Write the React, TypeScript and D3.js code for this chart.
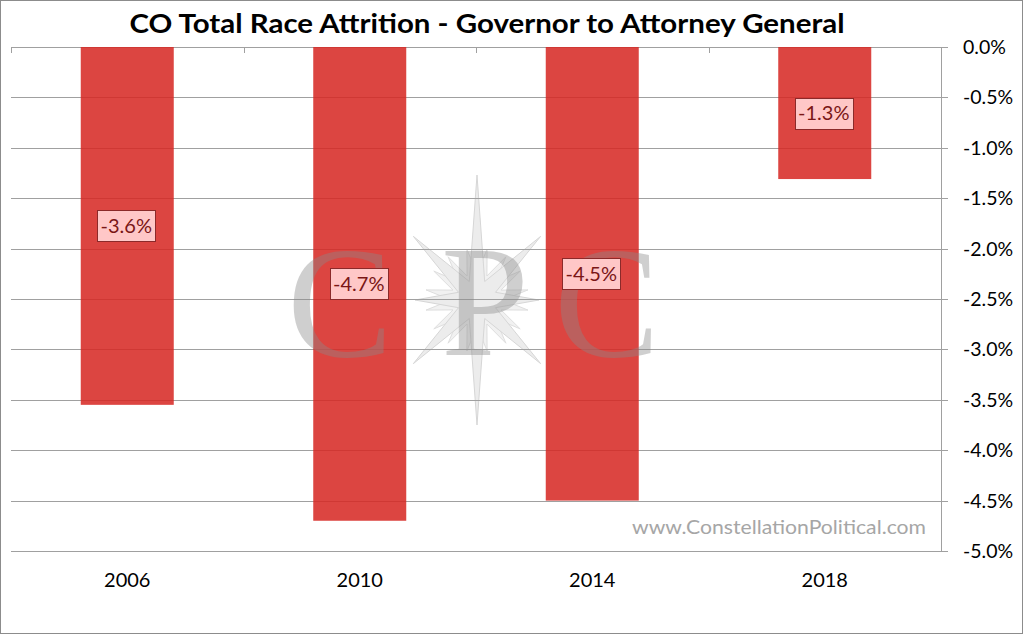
import React from "react";
import * as d3 from "d3";

const title = "CO Total Race Attrition - Governor to Attorney General";
const categories = ["2006", "2010", "2014", "2018"];
const values = [-3.55, -4.7, -4.5, -1.31];
const labels = ["-3.6%", "-4.7%", "-4.5%", "-1.3%"];
const yTicks = [0, -0.5, -1, -1.5, -2, -2.5, -3, -3.5, -4, -4.5, -5];
const watermarkUrl = "www.ConstellationPolitical.com";

const W = 1024;
const H = 634;
const left = 11;
const right = 941;
const top = 47;
const bottom = 551;

function starPath(cx: number, cy: number, radii: number[], inner: number, rot = 0) {
  const pts: [number, number][] = [];
  const n = radii.length;
  for (let i = 0; i < n; i++) {
    const a = (i / n) * Math.PI * 2 - Math.PI / 2 + rot;
    const r = radii[i];
    pts.push([cx + r * Math.cos(a), cy + r * Math.sin(a)]);
    const a2 = a + Math.PI / n;
    pts.push([cx + inner * Math.cos(a2), cy + inner * Math.sin(a2)]);
  }
  return "M" + pts.map((p) => p[0].toFixed(1) + "," + p[1].toFixed(1)).join("L") + "Z";
}

const fmt = (t: number) => d3.format(".1f")(t).replace("\u2212", "-") + "%";

export default function App() {
  const x = d3
    .scaleBand<string>()
    .domain(categories)
    .range([left, right])
    .paddingInner(0.6)
    .paddingOuter(0.3);
  const y = d3.scaleLinear().domain([0, -5]).range([top, bottom]);
  const step = x.step();
  const font = "Lato, 'Open Sans', sans-serif";
  const boundaries = d3.range(categories.length + 1).map((i) => left + i * step);
  const scx = 477;
  const scy = 300;

  return (
    <svg
      width={W}
      height={H}
      style={{ position: "absolute", left: 0, top: 0, background: "#fff" }}
    >
      <rect x={0.5} y={0.5} width={W - 2} height={H - 1} fill="#fff" stroke="#8c8c8c" />
      <text
        x={487}
        y={33}
        textAnchor="middle"
        fontFamily={font}
        fontWeight="bold"
        fontSize={26}
        fill="#000"
        textLength={715}
        lengthAdjust="spacingAndGlyphs"
      >
        {title}
      </text>

      {/* watermark compass star (behind) */}
      <g>
        <path
          d={starPath(scx, scy, [52, 52, 52, 52, 52, 52, 52, 52, 52, 52, 52, 52, 52, 52, 52, 52], 26, Math.PI / 16)}
          fill="#f1f1f1"
          stroke="#dedede"
          strokeWidth={1}
        />
        <path
          d={starPath(scx, scy, [125, 90, 62, 90, 125, 90, 62, 90], 20)}
          fill="#ececec"
          stroke="#d6d6d6"
          strokeWidth={1}
        />
      </g>

      {yTicks.map((t) => (
        <line
          key={t}
          x1={left}
          x2={right + 7}
          y1={Math.round(y(t)) + 0.5}
          y2={Math.round(y(t)) + 0.5}
          stroke="#a0a0a0"
          strokeWidth={1}
        />
      ))}
      <line x1={right + 0.5} x2={right + 0.5} y1={top} y2={bottom + 1} stroke="#a0a0a0" />
      {boundaries.map((b, i) => (
        <line
          key={i}
          x1={Math.round(b) + 0.5}
          x2={Math.round(b) + 0.5}
          y1={top}
          y2={top + 6}
          stroke="#a0a0a0"
        />
      ))}

      {categories.map((c, i) => (
        <rect
          key={c}
          x={x(c)}
          y={y(0)}
          width={x.bandwidth()}
          height={y(values[i]) - y(0)}
          fill="rgb(214,38,34)"
          fillOpacity={0.86}
        />
      ))}

      <g opacity={0.4}>
        <text x={340} y={356} textAnchor="middle" fontFamily="'Liberation Serif', serif" fontSize={158} fill="#8a8a8a">
          C
        </text>
        <text x={485} y={355} textAnchor="middle" fontFamily="'Liberation Serif', serif" fontSize={158} fill="#8a8a8a">
          P
        </text>
        <text x={607} y={356} textAnchor="middle" fontFamily="'Liberation Serif', serif" fontSize={158} fill="#8a8a8a">
          C
        </text>
      </g>

      <text
        x={926}
        y={534}
        textAnchor="end"
        fontFamily={font}
        fontSize={19}
        fill="#a6a6a6"
        textLength={294}
        lengthAdjust="spacingAndGlyphs"
      >
        {watermarkUrl}
      </text>

      {categories.map((c, i) => {
        const cx = (x(c) as number) + x.bandwidth() / 2;
        const cy = (y(0) + y(values[i])) / 2;
        const bw = 60;
        const bh = 31;
        return (
          <g key={c}>
            <rect
              x={Math.round(cx - bw / 2) + 0.5}
              y={Math.round(cy - bh / 2) + 0.5}
              width={bw - 2}
              height={bh}
              fill="#ffc7c7"
              stroke="#8b2a2a"
              strokeWidth={1}
            />
            <text
              x={cx - 1}
              y={cy + 7}
              textAnchor="middle"
              fontFamily={font}
              fontSize={20}
              fill="#7a1616"
            >
              {labels[i]}
            </text>
          </g>
        );
      })}

      {yTicks.map((t) => (
        <text key={t} x={963} y={y(t) + 7} fontFamily={font} fontSize={19.5} fill="#000">
          {fmt(t)}
        </text>
      ))}

      {categories.map((c) => (
        <text
          key={c}
          x={(x(c) as number) + x.bandwidth() / 2}
          y={587}
          textAnchor="middle"
          fontFamily={font}
          fontSize={20}
          fill="#000"
        >
          {c}
        </text>
      ))}
    </svg>
  );
}
